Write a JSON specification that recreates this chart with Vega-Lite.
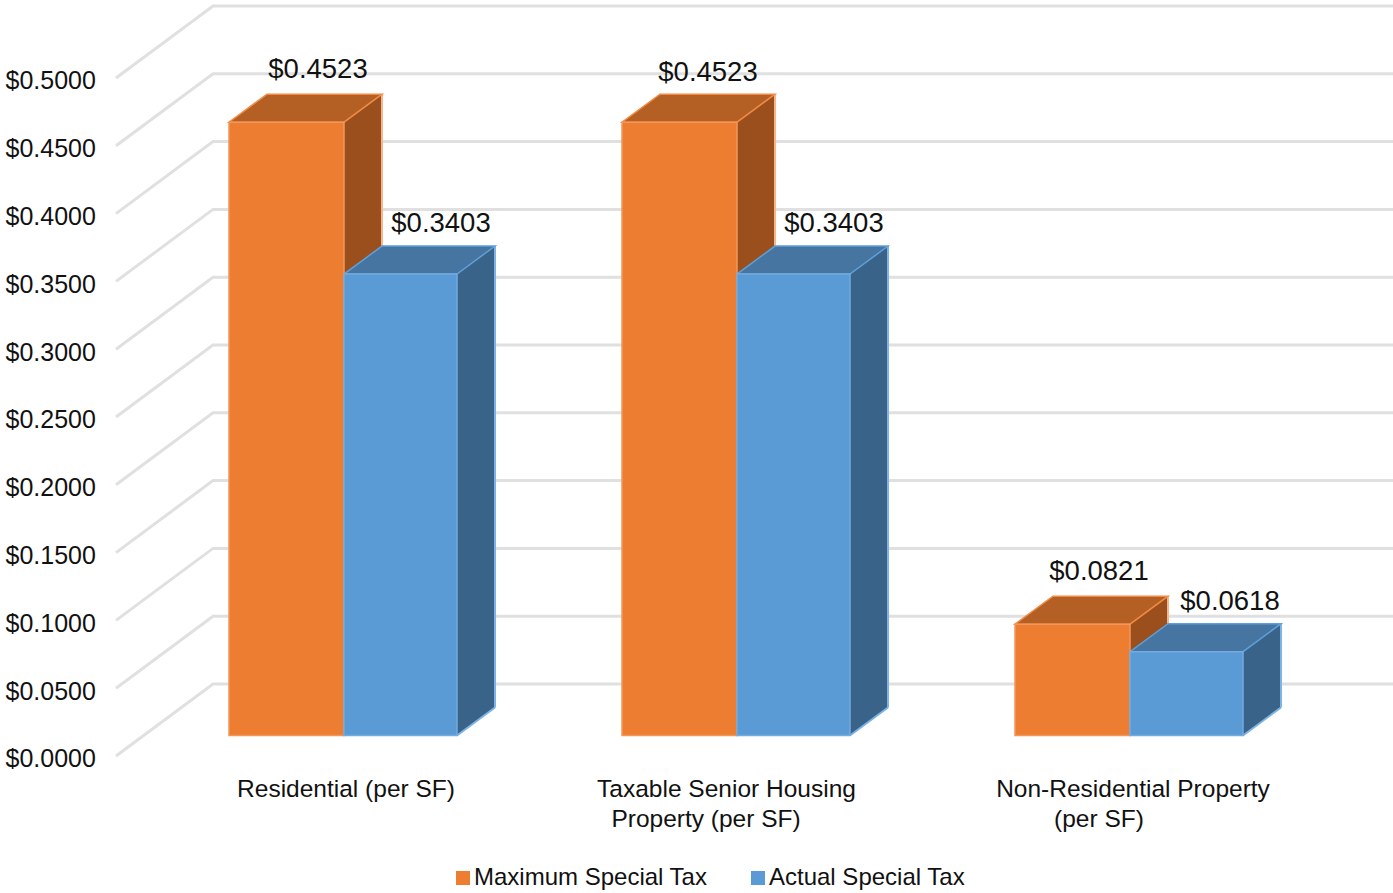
{
"$schema":"https://vega.github.io/schema/vega-lite/v6.json",
"width":1393,"height":893,"padding":0,"autosize":{"type":"none"},"background":"white",
"config":{"view":{"stroke":null},"font":"Liberation Sans","text":{"font":"Liberation Sans","fontSize":24.5,"fill":"#111111"}},
"data":{"values":[
{"category":"Residential (per SF)","series":"Maximum Special Tax","value":0.4523},
{"category":"Residential (per SF)","series":"Actual Special Tax","value":0.3403},
{"category":"Taxable Senior Housing Property (per SF)","series":"Maximum Special Tax","value":0.4523},
{"category":"Taxable Senior Housing Property (per SF)","series":"Actual Special Tax","value":0.3403},
{"category":"Non-Residential Property (per SF)","series":"Maximum Special Tax","value":0.0821},
{"category":"Non-Residential Property (per SF)","series":"Actual Special Tax","value":0.0618}
]},
"encoding":{
"x":{"field":"category","type":"nominal","sort":null,"axis":null,"scale":{"domain":["Residential (per SF)","Taxable Senior Housing Property (per SF)","Non-Residential Property (per SF)"],"range":[146.5,1325.5],"paddingInner":0,"paddingOuter":0}},
"y":{"field":"value","type":"quantitative","scale":{"domain":[-0.11615,0.5424],"nice":false,"zero":false},
"axis":{"title":null,"orient":"left","values":[0,0.05,0.1,0.15,0.2,0.25,0.3,0.35,0.4,0.45,0.5],"format":"$.4f","grid":false,"domain":false,"ticks":false,"tickSize":0,"labelFont":"Liberation Sans","labelFontSize":25,"labelColor":"#111111","labelAlign":"left","labelBaseline":"middle","labelPadding":-5,"labelOffset":23.5,"labelOverlap":false}}
},
"layer":[
{"data":{"values":[{"tick":0},{"tick":0.05},{"tick":0.1},{"tick":0.15},{"tick":0.2},{"tick":0.25},{"tick":0.3},{"tick":0.35},{"tick":0.4},{"tick":0.45},{"tick":0.5}]},
 "mark":{"type":"point","shape":"M-227,20.5L-130,-51.5L1060,-51.5","size":4,"filled":false,"stroke":"#e0e0e0","strokeWidth":3,"opacity":1},
 "encoding":{"x":{"datum":"Residential (per SF)"},"y":{"field":"tick","type":"quantitative"}}},

{"transform":[{"filter":"datum.series==='Maximum Special Tax'"}],
 "layer":[
 {"mark":{"type":"bar","width":38,"xOffset":20,"y2Offset":-28,"fill":"#9A4F1C"},"encoding":{"y2":{"datum":0}}},
 {"mark":{"type":"point","shape":"M1,0L39,-28L39,1L1,1Z","size":4,"filled":true,"fill":"#9A4F1C","opacity":1,"strokeWidth":0}},
 {"mark":{"type":"point","shape":"M1,-29L39,-29L39,-28L1,0Z","size":4,"filled":true,"fill":"#9A4F1C","opacity":1,"strokeWidth":0},"encoding":{"y":{"datum":0,"type":"quantitative"}}},
 {"mark":{"type":"rule","xOffset":39,"yOffset":-28,"y2Offset":-28,"stroke":"#F6B58A","strokeWidth":2},"encoding":{"y2":{"datum":0}}},
 {"mark":{"type":"point","shape":"M-114,0L1,0L39,-28L-76,-28Z","size":4,"filled":true,"fill":"#B45F24","stroke":"#F08A45","strokeWidth":1.5,"opacity":1}}
 ]},
{"transform":[{"filter":"datum.series==='Actual Special Tax'"}],
 "layer":[
 {"mark":{"type":"bar","width":38,"xOffset":133,"y2Offset":-28,"fill":"#3A6389"},"encoding":{"y2":{"datum":0}}},
 {"mark":{"type":"point","shape":"M114,0L152,-28L152,1L114,1Z","size":4,"filled":true,"fill":"#3A6389","opacity":1,"strokeWidth":0}},
 {"mark":{"type":"point","shape":"M114,-29L152,-29L152,-28L114,0Z","size":4,"filled":true,"fill":"#3A6389","opacity":1,"strokeWidth":0},"encoding":{"y":{"datum":0,"type":"quantitative"}}},
 {"mark":{"type":"rule","xOffset":152,"yOffset":-28,"y2Offset":-28,"stroke":"#7DB3E5","strokeWidth":2},"encoding":{"y2":{"datum":0}}},
 {"mark":{"type":"point","shape":"M114,0L152,-28","size":4,"filled":false,"stroke":"#7DB3E5","strokeWidth":2,"opacity":1},"encoding":{"y":{"datum":0,"type":"quantitative"}}},
 {"mark":{"type":"point","shape":"M1,0L114,0L152,-28L39,-28Z","size":4,"filled":true,"fill":"#4675A1","stroke":"#5F9FDA","strokeWidth":1.5,"opacity":1}}
 ]},

{"transform":[{"filter":"datum.series==='Maximum Special Tax'"}],
 "mark":{"type":"bar","width":115,"xOffset":-56.5,"stroke":"#F2965A","strokeWidth":1.5},
 "encoding":{"y2":{"datum":0},"color":{"field":"series","type":"nominal","title":null,
   "scale":{"domain":["Maximum Special Tax","Actual Special Tax"],"range":["#ED7D31","#5B9BD5"]},
   "legend":{"orient":"none","legendX":451,"legendY":864,"direction":"horizontal","columns":2,"padding":0,"title":null,"symbolType":"square","symbolSize":196,"symbolStrokeWidth":0,"symbolOpacity":1,"labelFont":"Liberation Sans","labelFontSize":24,"labelColor":"#111111","labelOffset":-1,"labelLimit":400,"columnPadding":38,"clipHeight":28}}}},
{"transform":[{"filter":"datum.series==='Actual Special Tax'"}],
 "mark":{"type":"bar","width":113,"xOffset":57.5,"stroke":"#74ABE0","strokeWidth":1.5},
 "encoding":{"y2":{"datum":0},"color":{"field":"series","type":"nominal","title":null}}},

{"transform":[{"filter":"datum.series==='Maximum Special Tax'&&datum.category==='Residential (per SF)'"}],
 "mark":{"type":"text","fontSize":27.5,"dx":-25,"dy":-52},"encoding":{"text":{"field":"value","type":"quantitative","format":"$.4f"}}},
{"transform":[{"filter":"datum.series==='Maximum Special Tax'&&datum.category==='Taxable Senior Housing Property (per SF)'"}],
 "mark":{"type":"text","fontSize":27.5,"dx":-28,"dy":-49},"encoding":{"text":{"field":"value","type":"quantitative","format":"$.4f"}}},
{"transform":[{"filter":"datum.series==='Maximum Special Tax'&&datum.category==='Non-Residential Property (per SF)'"}],
 "mark":{"type":"text","fontSize":27.5,"dx":-30,"dy":-52},"encoding":{"text":{"field":"value","type":"quantitative","format":"$.4f"}}},
{"transform":[{"filter":"datum.series==='Actual Special Tax'&&datum.category!=='Non-Residential Property (per SF)'"}],
 "mark":{"type":"text","fontSize":27.5,"dx":98,"dy":-50},"encoding":{"text":{"field":"value","type":"quantitative","format":"$.4f"}}},
{"transform":[{"filter":"datum.series==='Actual Special Tax'&&datum.category==='Non-Residential Property (per SF)'"}],
 "mark":{"type":"text","fontSize":27.5,"dx":101,"dy":-50},"encoding":{"text":{"field":"value","type":"quantitative","format":"$.4f"}}},

{"data":{"values":[{"category":"Residential (per SF)","line":"Residential (per SF)","base":0}]},
 "mark":{"type":"text","dx":3,"dy":54.5},"encoding":{"y":{"field":"base","type":"quantitative"},"text":{"field":"line","type":"nominal"}}},
{"data":{"values":[{"category":"Taxable Senior Housing Property (per SF)","line":"Taxable Senior Housing","base":0}]},
 "mark":{"type":"text","dx":-9.5,"dy":54.5},"encoding":{"y":{"field":"base","type":"quantitative"},"text":{"field":"line","type":"nominal"}}},
{"data":{"values":[{"category":"Non-Residential Property (per SF)","line":"Non-Residential Property","base":0}]},
 "mark":{"type":"text","dx":4,"dy":54.5},"encoding":{"y":{"field":"base","type":"quantitative"},"text":{"field":"line","type":"nominal"}}},
{"data":{"values":[{"category":"Taxable Senior Housing Property (per SF)","line":"Property (per SF)","base":0},{"category":"Non-Residential Property (per SF)","line":"(per SF)","base":0}]},
 "mark":{"type":"text","dx":-30,"dy":84.5},"encoding":{"y":{"field":"base","type":"quantitative"},"text":{"field":"line","type":"nominal"}}}
]
}
